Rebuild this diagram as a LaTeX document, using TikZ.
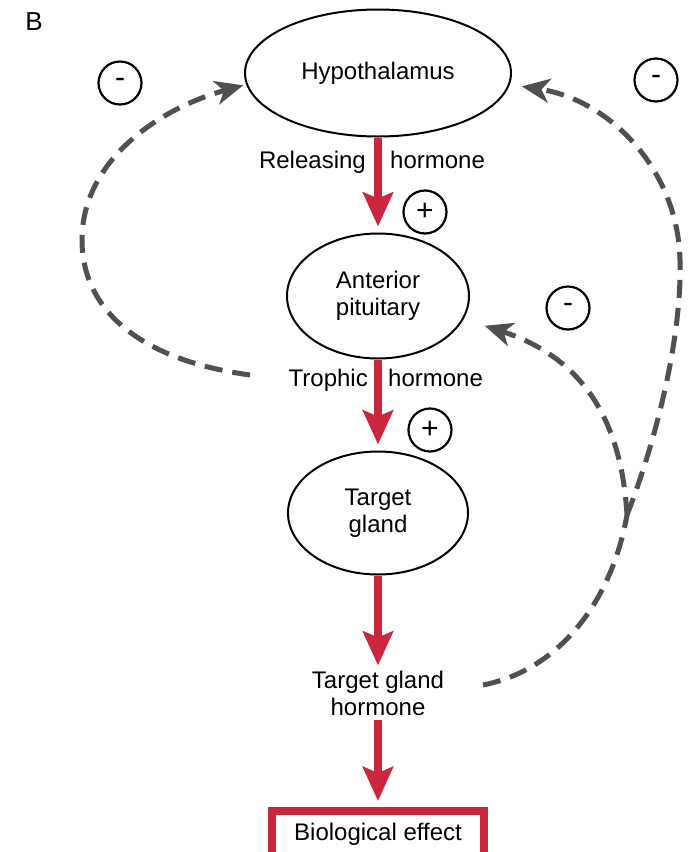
\documentclass[tikz,border=0pt]{standalone}
\usepackage{fontspec}
\setmainfont{Liberation Sans}
\usetikzlibrary{arrows.meta,shapes.geometric}
\definecolor{hred}{RGB}{204,38,62}
\definecolor{dgray}{RGB}{80,80,80}
\tikzset{
  txt/.style={font=\fontsize{24}{27}\selectfont, inner sep=0pt},
  oval/.style={ellipse, draw=black, line width=2pt, inner sep=0pt, txt, align=center},
  sign/.style={circle, draw=black, line width=2.2pt, minimum size=43pt, inner sep=0pt, font=\fontsize{30}{30}\selectfont},
  redarrow/.style={draw=hred, line width=8pt, -{Triangle[length=34pt,width=30pt,inset=6pt]}},
  fb/.style={draw=dgray, line width=5pt, dash pattern=on 18pt off 10pt, -{Stealth[length=28pt,width=24pt,inset=8pt]}},
  trunk/.style={draw=dgray, line width=5pt, dash pattern=on 18pt off 10pt},
}
\begin{document}
\begin{tikzpicture}[x=1pt,y=-1pt]
\useasboundingbox (0,0) rectangle (694,852);
\clip (0,0) rectangle (694,852);
\fill[white] (0,0) rectangle (694,852);

\node[txt, font=\fontsize{26}{28}\selectfont] (lblB) at (34,22) {B};

\node[oval, minimum width=266pt, minimum height=127pt] (hyp) at (378,73) {Hypothalamus};
\node[oval, minimum width=182pt, minimum height=125pt] (ant) at (378,296) {Anterior\\pituitary};
\node[oval, minimum width=180pt, minimum height=123pt] (tg) at (378,513) {Target\\gland};
\node[txt, align=center] (tgh) at (378,693) {Target gland\\hormone};
\node[draw=hred, line width=8pt, minimum width=212pt, minimum height=46pt, txt] (bio) at (378,834) {Biological effect};

\node[txt, anchor=base east] (rel1) at (366,168) {Releasing};
\node[txt, anchor=base west] (rel2) at (390,168) {hormone};
\node[txt, anchor=base east] (tro1) at (368,386) {Trophic};
\node[txt, anchor=base west] (tro2) at (388,386) {hormone};

\node[sign] (p1) at (425,212) {+};
\node[sign] (p2) at (430,430) {+};
\node[sign] (m1) at (120,83) {-};
\node[sign] (m2) at (656,80) {-};
\node[sign] (m3) at (568,308) {-};

\draw[redarrow, shorten >=6pt] (hyp.south) -- (ant.north);
\draw[redarrow, shorten >=6pt] (ant.south) -- (tg.north);
\draw[redarrow, shorten >=5pt] (tg.south) -- (tgh.north);
\draw[redarrow, shorten >=6pt, shorten <=4pt] (tgh.south) -- (bio.north);

\coordinate (s1) at (250,375);
\coordinate (s2) at (483,685);
\coordinate (j) at (627,515);

\draw[fb, shorten >=3pt] (s1) .. controls (140,360) and (82,310) .. (82,240)
  .. controls (82,160) and (160,108) .. (hyp.185);
\draw[trunk] (s2) .. controls (560,670) and (612,600) .. (j);
\draw[fb, shorten >=12pt] (j) .. controls (660,430) and (682,330) .. (680,260)
  .. controls (678,170) and (610,100) .. (hyp.-5);
\draw[fb, shorten >=22pt] (j) .. controls (622,430) and (590,360) .. (ant.-15);
\end{tikzpicture}
\end{document}
